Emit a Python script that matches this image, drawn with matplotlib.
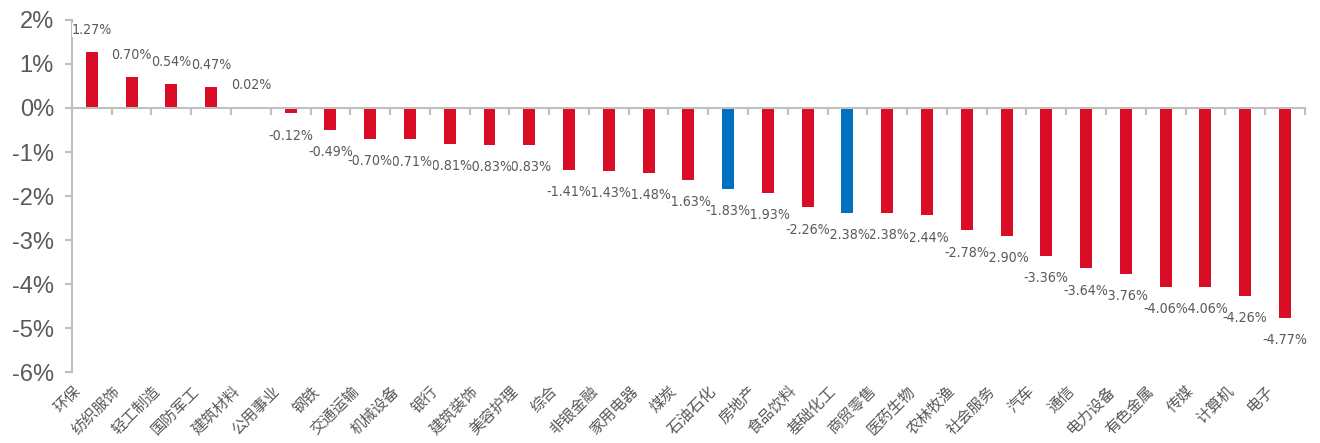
import matplotlib
matplotlib.use("Agg")
import matplotlib.pyplot as plt
import matplotlib.transforms as mtransforms
import numpy as np

# 行业周涨跌幅
industries = ["环保", "纺织服饰", "轻工制造", "国防军工", "建筑材料", "公用事业", "钢铁",
              "交通运输", "机械设备", "银行", "建筑装饰", "美容护理", "综合", "非银金融",
              "家用电器", "煤炭", "石油石化", "房地产", "食品饮料", "基础化工", "商贸零售",
              "医药生物", "农林牧渔", "社会服务", "汽车", "通信", "电力设备", "有色金属",
              "传媒", "计算机", "电子"]
changes = [1.27, 0.70, 0.54, 0.47, 0.02, -0.12, -0.49, -0.70, -0.71, -0.81, -0.83, -0.83,
           -1.41, -1.43, -1.48, -1.63, -1.83, -1.93, -2.26, -2.38, -2.38, -2.44, -2.78,
           -2.90, -3.36, -3.64, -3.76, -4.06, -4.06, -4.26, -4.77]
highlight = ["石油石化", "基础化工"]
yticks = [2, 1, 0, -1, -2, -3, -4, -5, -6]

RED = "#D90D26"
BLUE = "#0070C0"
GREY = "#595959"
AXIS = "#BFBFBF"

plt.rcParams["font.family"] = ["Liberation Sans", "DejaVu Sans"]

fig = plt.figure(figsize=(13.2, 4.43), dpi=100)
ax = fig.add_axes([0.0545, 0.160, 0.934, 0.795])

x = np.arange(len(industries))
colors = [BLUE if name in highlight else RED for name in industries]
ax.bar(x, changes, width=0.3, color=colors, zorder=2)

ax.set_xlim(-0.5, len(industries) - 0.5)
ax.set_ylim(-6, 2)
ax.set_yticks(yticks)
ax.set_yticklabels([f"{t}%" for t in yticks], fontsize=17, color=GREY)

for side in ["top", "right"]:
    ax.spines[side].set_visible(False)
ax.spines["left"].set_color(AXIS)
ax.spines["left"].set_linewidth(1.5)
ax.spines["bottom"].set_position(("data", 0))
ax.spines["bottom"].set_color(AXIS)
ax.spines["bottom"].set_linewidth(1.5)
ax.tick_params(axis="y", length=5, width=1.5, color=AXIS, pad=8)
ax.set_xticks(np.arange(len(industries)) + 0.5)
ax.set_xticklabels([])
ax.tick_params(axis="x", length=5, width=1.5, color=AXIS, direction="out")

# 数据标签：前面的标签压在后面的上面
n = len(changes)
for i, v in enumerate(changes):
    if v >= 0:
        off, va = 11, "bottom"
    else:
        off, va = -11, "top"
    ax.annotate(f"{v:.2f}%", (i, v), xytext=(0, off), textcoords="offset points",
                ha="center", va=va, fontsize=10.2, color=GREY,
                family="DejaVu Sans", fontstretch="condensed",
                bbox=dict(boxstyle="square,pad=0", fc="white", ec="none"),
                zorder=10 + n - i)

# 行业名称，45度斜排
trans = mtransforms.blended_transform_factory(ax.transData, ax.transAxes)
trans = trans + mtransforms.ScaledTranslation(-10 / 72, -12 / 72, fig.dpi_scale_trans)
for i, name in enumerate(industries):
    ax.text(i, 0, name, transform=trans, rotation=45, rotation_mode="anchor",
            ha="right", va="center", fontsize=11, color=GREY,
            family=["Noto Sans CJK SC", "DejaVu Sans"])

fig.savefig("out.png", dpi=100)
